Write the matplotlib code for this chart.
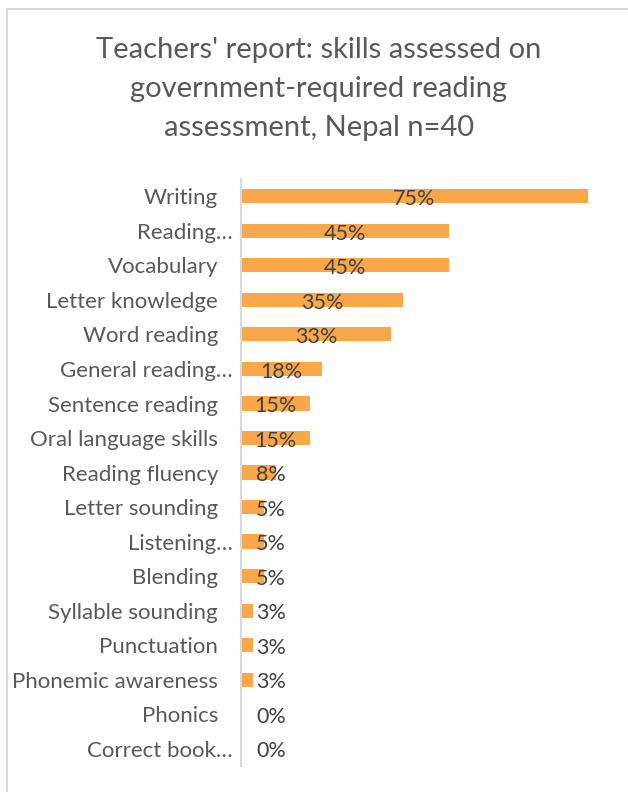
import matplotlib

matplotlib.use("Agg")
import matplotlib.pyplot as plt
from matplotlib.patches import Rectangle
from matplotlib.transforms import offset_copy

# share of teachers (n=40) reporting each skill on the assessment, in %
skills = [
    "Writing",
    "Reading\u2026",
    "Vocabulary",
    "Letter knowledge",
    "Word reading",
    "General reading\u2026",
    "Sentence reading",
    "Oral language skills",
    "Reading fluency",
    "Letter sounding",
    "Listening\u2026",
    "Blending",
    "Syllable sounding",
    "Punctuation",
    "Phonemic awareness",
    "Phonics",
    "Correct book\u2026",
]
pct = [75, 45, 45, 35, 32.5, 17.5, 15, 15, 7.5, 5, 5, 5, 2.5, 2.5, 2.5, 0, 0]

title = "Teachers' report: skills assessed on\ngovernment-required reading\nassessment, Nepal n=40"

BAR = "#F9A74B"
TXT = "#595959"
LBL = "#404040"
GRID = "#D9D9D9"

plt.rcParams["font.family"] = ["Lato", "DejaVu Sans"]

fig = plt.figure(figsize=(6.28, 7.92), dpi=100)

# chart frame, only the top and left edges fall inside the image
fig.patches.append(Rectangle((6.5 / 628, -0.1), 1.2, 1.1 - 9.5 / 792,
                             transform=fig.transFigure, fill=False,
                             edgecolor=GRID, linewidth=1.5))

fig.text(319 / 628, 1 - 89 / 792, title, ha="center", va="center",
         fontsize=21, color=TXT, linespacing=1.62)

ax = fig.add_axes([241 / 628, 1 - 766 / 792, 370 / 628, 587 / 792])
y = list(range(len(skills)))
ax.barh(y, pct, height=0.41, color=BAR, edgecolor="none")
ax.set_xlim(0, 80)
ax.set_ylim(len(skills) - 0.5, -0.5)

ax.set_yticks([])
ax.set_xticks([])
for side in ["top", "right", "bottom"]:
    ax.spines[side].set_visible(False)
ax.spines["left"].set_color(GRID)
ax.spines["left"].set_linewidth(1.5)

# category names right-aligned left of the axis; truncated names let the
# ellipsis hang past the common right edge
plain = offset_copy(ax.transData, fig=fig, x=-16.5, y=-1.5, units="points")
clipped = offset_copy(ax.transData, fig=fig, x=-6, y=-1.5, units="points")
for yi, name in zip(y, skills):
    tr = clipped if name.endswith("\u2026") else plain
    ax.text(0, yi, name, transform=tr, ha="right", va="center",
            fontsize=16, color=TXT)

# value labels sit centred on the bar, but never closer than this to the axis
min_center = 6.5
for yi, v in zip(y, pct):
    label = "%d%%" % int(v + 0.5)
    ax.text(max(v / 2, min_center), yi + 0.08, label, ha="center", va="center",
            fontsize=15.5, color=LBL)

fig.savefig("out.png", dpi=100)
